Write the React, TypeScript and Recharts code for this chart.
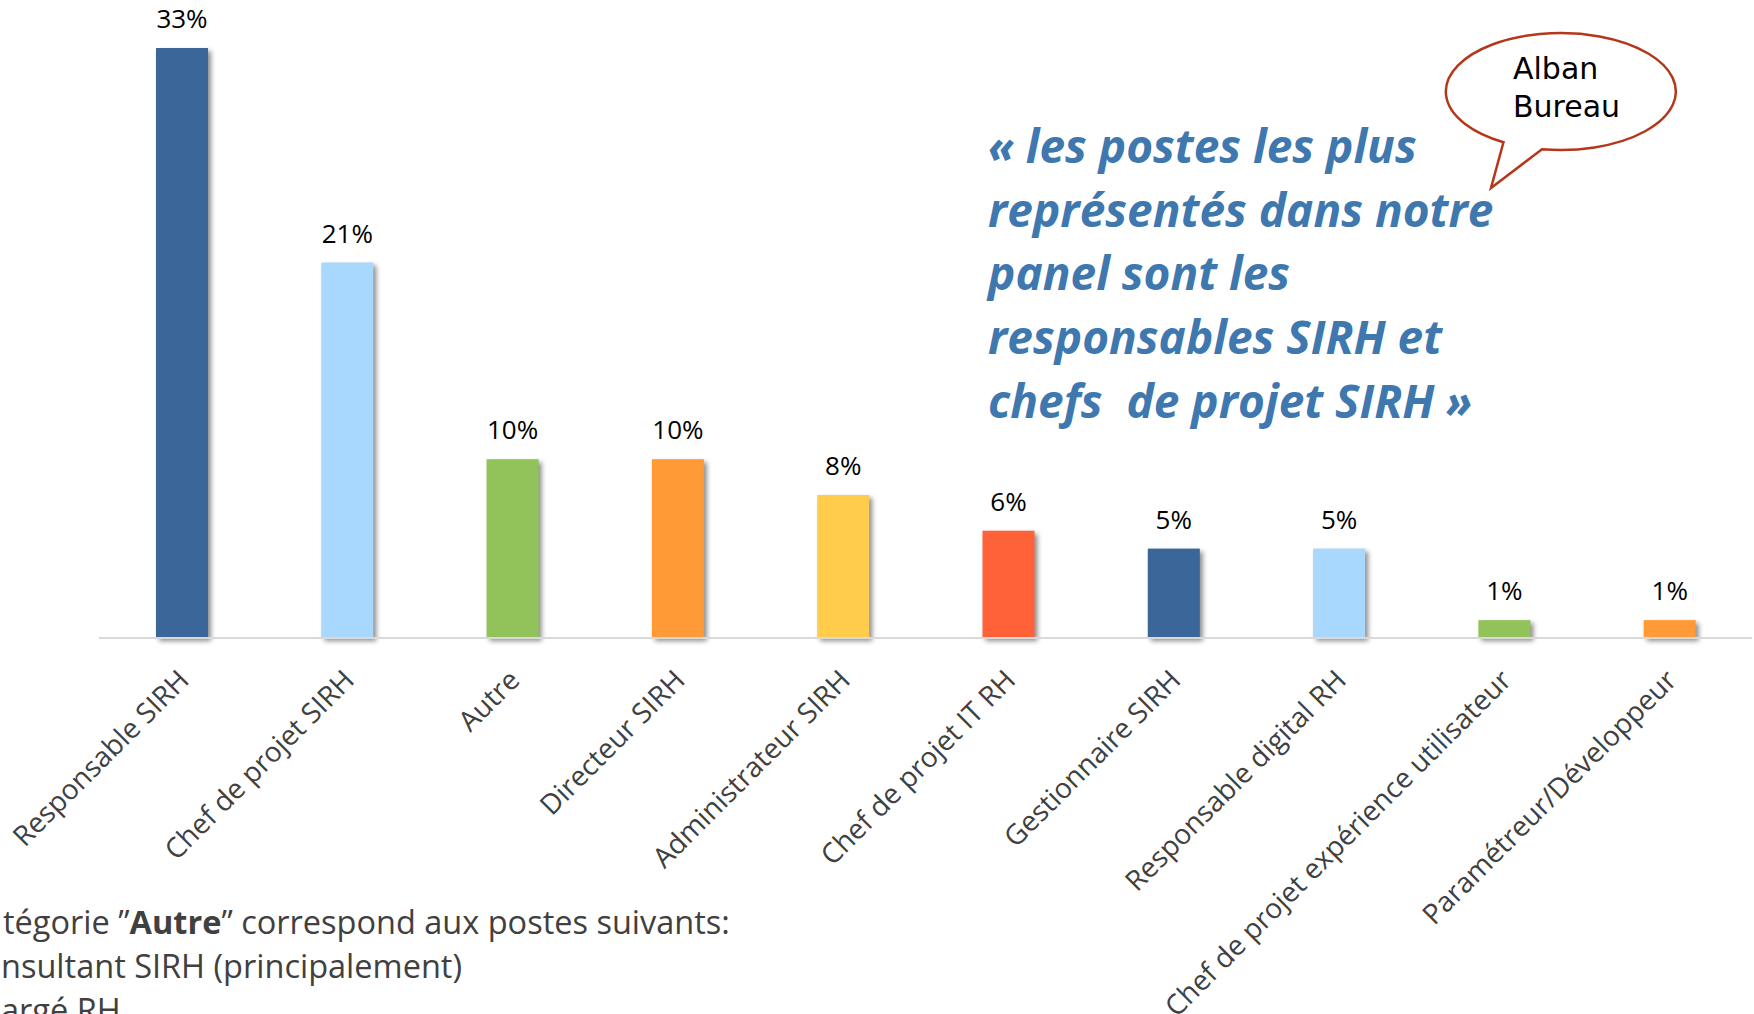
import React from 'react';
import { BarChart, Bar, XAxis, YAxis, Cell, LabelList } from 'recharts';

const categories = [
  'Responsable SIRH',
  'Chef de projet SIRH',
  'Autre',
  'Directeur SIRH',
  'Administrateur SIRH',
  'Chef de projet IT RH',
  'Gestionnaire SIRH',
  'Responsable digital RH',
  'Chef de projet expérience utilisateur',
  'Paramétreur/Développeur',
];
const shares = [33, 21, 10, 10, 8, 6, 5, 5, 1, 1];
const barColors = [
  '#3B6699', '#A8D8FE', '#92C35A', '#FF9A37', '#FFCC4C',
  '#FF6138', '#3B6699', '#A8D8FE', '#92C35A', '#FF9A37',
];
const quoteLines = [
  '« les postes les plus',
  'représentés dans notre',
  'panel sont les',
  'responsables SIRH et',
  'chefs  de projet SIRH »',
];
const bubbleLines = ['Alban', 'Bureau'];
const noteLines = ['nsultant SIRH (principalement)', 'argé RH'];

const data = categories.map((name, i) => ({ name, value: shares[i] }));

const FONT = '"Open Sans", "Noto Sans", sans-serif';

const AxisTick = (props: any) => {
  const { x, y, payload } = props;
  return (
    <g transform={`translate(${x + 9},${y + 44})`}>
      <text transform="rotate(-45)" textAnchor="end" fill="#404040" fontSize={28} fontFamily={FONT}>
        {payload.value}
      </text>
    </g>
  );
};

const TopLabel = (props: any) => {
  const { x, y, width, value } = props;
  return (
    <text x={x + width / 2} y={y - 20} textAnchor="middle" fontSize={26} fill="#000" fontFamily={FONT}>
      {value}%
    </text>
  );
};

const ShadowBar = (props: any) => {
  const { x, y, width, height, fill } = props;
  return (
    <g>
      <rect x={x + 3} y={y + 3} width={width} height={height} fill="#000" opacity={0.45} filter="url(#barShadow)" />
      <rect x={x} y={y} width={width} height={height} fill={fill} />
    </g>
  );
};

export default function App() {
  return (
    <div style={{ position: 'absolute', left: 0, top: 0, width: 1754, height: 1014, background: '#fff', overflow: 'hidden' }}>
      <svg width={0} height={0} style={{ position: 'absolute' }}>
        <defs>
          <filter id="barShadow" x="-50%" y="-50%" width="200%" height="200%">
            <feGaussianBlur stdDeviation="2.5" />
          </filter>
        </defs>
      </svg>
      <BarChart
        width={1754}
        height={1014}
        data={data}
        margin={{ top: 48, right: 2, bottom: 0, left: 99 }}
      >
        <YAxis hide domain={[0, 33]} />
        <XAxis
          dataKey="name"
          height={376}
          interval={0}
          tickSize={0}
          tickMargin={0}
          tickLine={false}
          axisLine={{ stroke: '#D9D9D9', strokeWidth: 2 }}
          tick={<AxisTick />}
        />
        <Bar dataKey="value" barSize={52} isAnimationActive={false} shape={<ShadowBar />}>
          {data.map((d, i) => (
            <Cell key={d.name} fill={barColors[i]} />
          ))}
          <LabelList dataKey="value" content={<TopLabel />} />
        </Bar>
      </BarChart>
      <svg width={1754} height={1014} style={{ position: 'absolute', left: 0, top: 0, pointerEvents: 'none' }}>
        {quoteLines.map((line, i) => (
          <text
            key={line}
            x={988}
            y={163 + i * 63.7}
            fontSize={46}
            fontWeight="bold"
            fontStyle="italic"
            fill="#3E78AE"
            fontFamily={FONT}
            style={{ whiteSpace: 'pre' }}
          >
            {line}
          </text>
        ))}
        <path
          d="M 1542 149.2 A 115 58.5 0 1 0 1503.5 142.2 L 1491 188 Z"
          fill="#fff"
          stroke="#B5371A"
          strokeWidth={2.5}
          strokeLinejoin="miter"
        />
        {bubbleLines.map((line, i) => (
          <text key={line} x={1513} y={79 + i * 38} fontSize={30} fill="#000" fontFamily='"DejaVu Sans", sans-serif'>
            {line}
          </text>
        ))}
        <text x={3} y={934} fontSize={32.5} fill="#404040" fontFamily={FONT}>
          tégorie ”<tspan fontWeight="bold">Autre</tspan>” correspond aux postes suivants:
        </text>
        {noteLines.map((line, i) => (
          <text key={line} x={1} y={978 + i * 44} fontSize={32.5} fill="#404040" fontFamily={FONT}>
            {line}
          </text>
        ))}
      </svg>
    </div>
  );
}
